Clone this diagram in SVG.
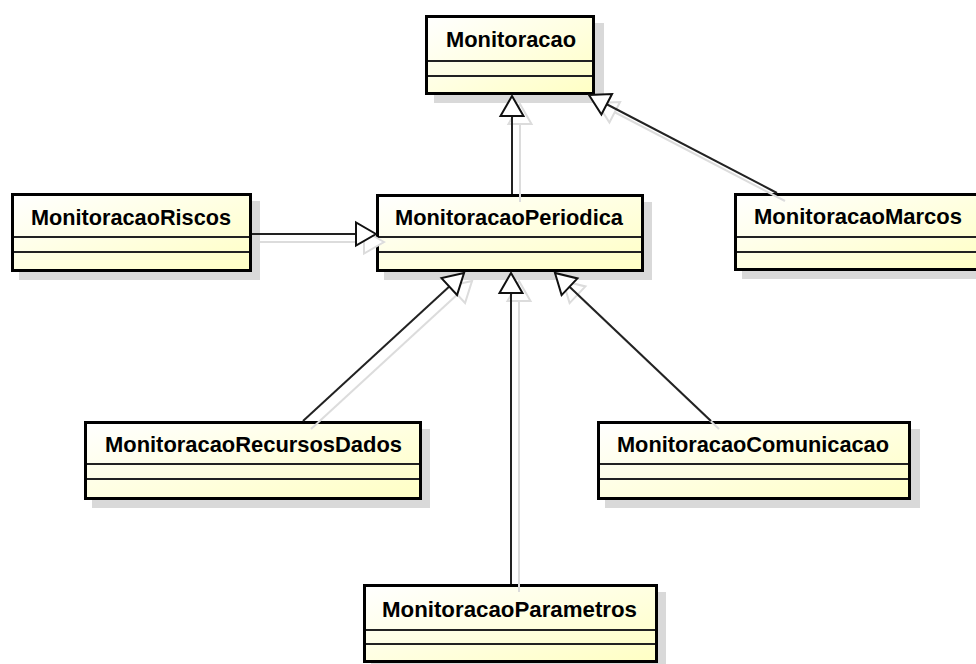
<svg xmlns="http://www.w3.org/2000/svg" width="976" height="664" viewBox="0 0 976 664">
  <style>
    .shadow { fill: #d9d9d9; }
    .box { fill: url(#classFill); stroke: #000; stroke-width: 3; }
    .sep { stroke: #222; stroke-width: 2; }
    .name { font-family: "Liberation Sans", Arial, sans-serif; font-weight: bold; font-size: 22px; fill: #000; text-anchor: middle; }
    .edge { fill: none; stroke: #222; stroke-width: 2; marker-end: url(#gen); }
    .edge-shadow { fill: none; stroke: #dcdcdc; stroke-width: 2; marker-end: url(#genShadow); }
  </style>
  <defs>
    <linearGradient id="classFill" x1="0" y1="0" x2="1" y2="1">
      <stop offset="0" stop-color="#ffffff"/>
      <stop offset="1" stop-color="#ffffc4"/>
    </linearGradient>
    <!-- hollow generalization arrowhead -->
    <marker id="gen" markerUnits="userSpaceOnUse" viewBox="-24 -14 26 28" markerWidth="26" markerHeight="28" refX="0" refY="0" orient="auto" overflow="visible">
      <path d="M0,0 L-20,-11.5 L-20,11.5 Z" fill="#fff" stroke="#111" stroke-width="2" stroke-linejoin="miter"/>
    </marker>
    <marker id="genShadow" markerUnits="userSpaceOnUse" viewBox="-24 -14 26 28" markerWidth="26" markerHeight="28" refX="0" refY="0" orient="auto" overflow="visible">
      <path d="M0,0 L-20,-11.5 L-20,11.5 Z" fill="#fff" stroke="#dcdcdc" stroke-width="2"/>
    </marker>
  </defs>

  <rect width="976" height="664" fill="#fff"/>

  <!-- classes -->
  <g id="Monitoracao">
    <rect class="shadow" x="434" y="23" width="170" height="80"/>
    <rect class="box" x="426.5" y="16.5" width="167" height="77"/>
    <line class="sep" x1="428" y1="61" x2="592" y2="61"/>
    <line class="sep" x1="428" y1="76" x2="592" y2="76"/>
    <text class="name" x="511" y="47" textLength="130" lengthAdjust="spacingAndGlyphs">Monitoracao</text>
  </g>

  <g id="MonitoracaoRiscos">
    <rect class="shadow" x="19" y="201" width="241" height="79"/>
    <rect class="box" x="12.5" y="194.5" width="238" height="76"/>
    <line class="sep" x1="14" y1="237" x2="249" y2="237"/>
    <line class="sep" x1="14" y1="252" x2="249" y2="252"/>
    <text class="name" x="131" y="225" textLength="200" lengthAdjust="spacingAndGlyphs">MonitoracaoRiscos</text>
  </g>

  <g id="MonitoracaoPeriodica">
    <rect class="shadow" x="384" y="202" width="268" height="78"/>
    <rect class="box" x="377.5" y="195.5" width="265" height="75"/>
    <line class="sep" x1="379" y1="237" x2="641" y2="237"/>
    <line class="sep" x1="379" y1="252" x2="641" y2="252"/>
    <text class="name" x="509" y="225" textLength="228" lengthAdjust="spacingAndGlyphs">MonitoracaoPeriodica</text>
  </g>

  <g id="MonitoracaoMarcos">
    <rect class="shadow" x="742" y="201" width="248" height="78"/>
    <rect class="box" x="735.5" y="194.5" width="245" height="75"/>
    <line class="sep" x1="737" y1="237" x2="979" y2="237"/>
    <line class="sep" x1="737" y1="252" x2="979" y2="252"/>
    <text class="name" x="858" y="224" textLength="208" lengthAdjust="spacingAndGlyphs">MonitoracaoMarcos</text>
  </g>

  <g id="MonitoracaoRecursosDados">
    <rect class="shadow" x="92" y="429" width="338" height="79"/>
    <rect class="box" x="85.5" y="422.5" width="335" height="76"/>
    <line class="sep" x1="87" y1="464" x2="419" y2="464"/>
    <line class="sep" x1="87" y1="479" x2="419" y2="479"/>
    <text class="name" x="253.5" y="452" textLength="297" lengthAdjust="spacingAndGlyphs">MonitoracaoRecursosDados</text>
  </g>

  <g id="MonitoracaoComunicacao">
    <rect class="shadow" x="605" y="429" width="315" height="79"/>
    <rect class="box" x="598.5" y="422.5" width="311" height="76"/>
    <line class="sep" x1="600" y1="464" x2="908" y2="464"/>
    <line class="sep" x1="600" y1="479" x2="908" y2="479"/>
    <text class="name" x="753" y="452" textLength="272" lengthAdjust="spacingAndGlyphs">MonitoracaoComunicacao</text>
  </g>

  <g id="MonitoracaoParametros">
    <rect class="shadow" x="371" y="592" width="295" height="79"/>
    <rect class="box" x="364.5" y="585.5" width="292" height="76"/>
    <line class="sep" x1="366" y1="630" x2="655" y2="630"/>
    <line class="sep" x1="366" y1="644" x2="655" y2="644"/>
    <text class="name" x="509.5" y="617" textLength="255" lengthAdjust="spacingAndGlyphs">MonitoracaoParametros</text>
  </g>

  <!-- generalization connectors -->
  <g id="connectors">
    <g id="connector-shadows">
      <path class="edge-shadow" d="M520,202 L520,104"/>
      <path class="edge-shadow" d="M260,242 L384,242"/>
      <path class="edge-shadow" d="M785,201 L597,103"/>
      <path class="edge-shadow" d="M311,429 L472,281"/>
      <path class="edge-shadow" d="M519,592 L519,281"/>
      <path class="edge-shadow" d="M719,429 L563,281"/>
    </g>
    <path class="edge" d="M512,194 L512,96"/>
    <path class="edge" d="M252,234 L376,234"/>
    <path class="edge" d="M777,193 L589,95"/>
    <path class="edge" d="M303,421 L464,273"/>
    <path class="edge" d="M511,584 L511,273"/>
    <path class="edge" d="M711,421 L555,273"/>
  </g>
</svg>
